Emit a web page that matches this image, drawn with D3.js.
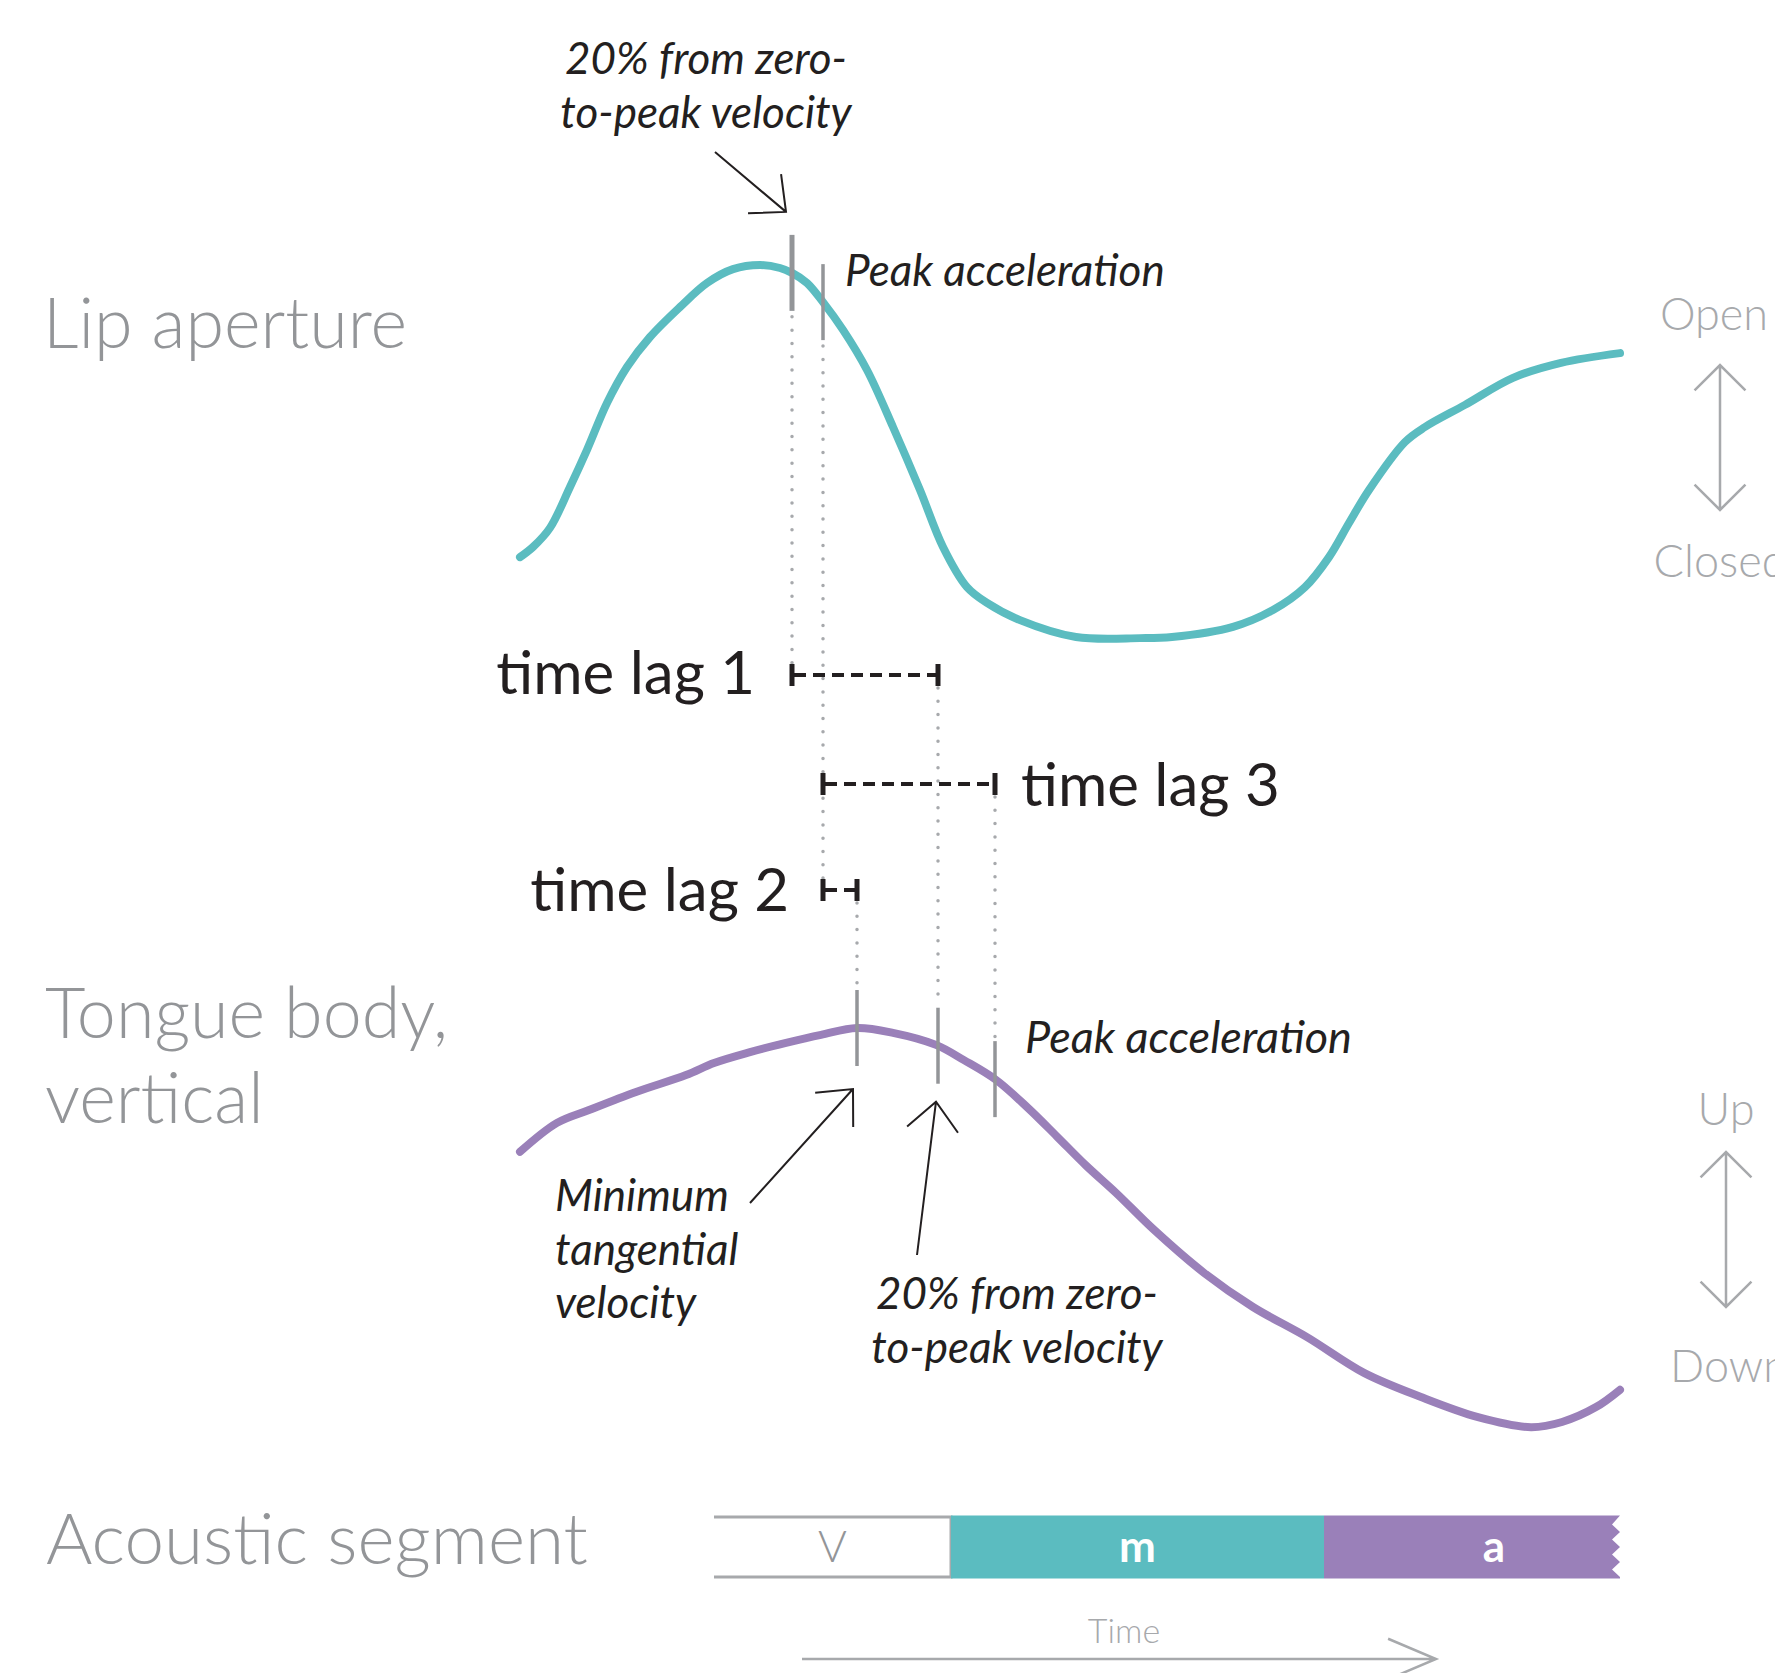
<!DOCTYPE html>
<html>
<head>
<meta charset="utf-8">
<script src="https://cdn.jsdelivr.net/npm/d3@7"></script>
<style>
  html, body { margin: 0; padding: 0; background: #fff; }
  svg { display: block; }
  text { font-family: Lato, "Open Sans", "Noto Sans", sans-serif; }
</style>
</head>
<body>
<svg id="chart" width="1775" height="1673"></svg>
<script>
// ---- Data -------------------------------------------------------------
// Lip aperture trajectory (time in ms, aperture as % of its range)
const lipTime     = [0, 6.5, 15, 25, 33.5, 43.5, 53.5, 65, 80, 93.5, 106.5, 120, 130, 136, 143.5, 151.5, 161.5, 173.5, 186.5, 200, 211.5, 223.5, 233.5, 250, 278, 310, 326, 356.5, 376.5, 392.5, 404.5, 414.5, 424.5, 442.5, 452.5, 472.5, 496.5, 520.5, 550];
const lipAperture = [22.1, 24.8, 29.9, 40.8, 50.7, 63.2, 72.8, 80.8, 88.8, 95.2, 98.9, 100, 99.2, 97.9, 95.2, 90.1, 82.7, 72, 56.8, 40, 24.8, 14.1, 9.9, 5.3, 0.8, 0.5, 0.8, 3.5, 8, 14.1, 22.1, 31.2, 40, 52.8, 56.8, 62.7, 69.9, 73.9, 76.5];

// Tongue body vertical position (time in ms, height as % of its range)
const tongueTime   = [0, 18.5, 34.5, 58, 83, 97, 115, 133, 150.5, 168.5, 186.5, 208, 222, 238, 254, 268.5, 283, 298, 317, 342, 366.5, 393.5, 422, 450.5, 479, 505.5, 521, 538, 550];
const tongueHeight = [69.2, 76.4, 79.6, 84.1, 88.3, 91.3, 94.0, 96.3, 98.3, 100, 98.8, 95.8, 92.0, 87.1, 80.1, 73.0, 65.8, 59.0, 49.8, 39.1, 30.6, 23.1, 14.2, 8.2, 3.2, 0.7, 2.0, 5.7, 10];

// Kinematic landmarks (ms)
const lipLandmarkTimes    = [136, 151.5];          // 20% velocity onset, peak acceleration
const tongueLandmarkTimes = [168.5, 209, 237.5];   // min. tangential velocity, 20% onset, peak acceleration

// Inter-gestural lags, listed top to bottom
const lagLabels = ["time lag 1", "time lag 3", "time lag 2"];
const lagFrom   = [136, 151.5, 151.5];
const lagTo     = [209, 237.5, 168.5];

// Acoustic segmentation (ms)
const segmentLabels = ["V", "m", "a"];
const segmentStart  = [97, 215.5, 402];
const segmentEnd    = [215.5, 402, 572];

const timeDomain = [0, 550];

// ---- Palette ----------------------------------------------------------
const TEAL = "#5bbcc0", PURPLE = "#9a80b9", INK = "#231f20";
const GREY = "#939598", LIGHT = "#a7a9ac";

// ---- Scales -----------------------------------------------------------
const svg = d3.select("#chart");
const x = d3.scaleLinear().domain(timeDomain).range([520, 1620]);
const yLip = d3.scaleLinear().domain([0, 100]).range([640, 265]);
const yTongue = d3.scaleLinear().domain([0, 100]).range([1430, 1028]);

// ---- Helpers ----------------------------------------------------------
function arrowPath(x1, y1, x2, y2, spread, len) {
  const back = Math.atan2(y1 - y2, x1 - x2);
  const a1 = back + spread, a2 = back - spread;
  return `M${x1},${y1}L${x2},${y2}` +
         `M${x2 + len * Math.cos(a1)},${y2 + len * Math.sin(a1)}L${x2},${y2}` +
         `L${x2 + len * Math.cos(a2)},${y2 + len * Math.sin(a2)}`;
}

function doubleArrow(cx, yTop, yBot, len) {
  const d = len * Math.SQRT1_2;
  return `M${cx},${yTop}L${cx},${yBot}` +
         `M${cx - d},${yTop + d}L${cx},${yTop}L${cx + d},${yTop + d}` +
         `M${cx - d},${yBot - d}L${cx},${yBot}L${cx + d},${yBot - d}`;
}

// y position of a drawn path at a given screen x (path is monotone in x)
function yOnPath(node, px) {
  let lo = 0, hi = node.getTotalLength();
  for (let i = 0; i < 40; i++) {
    const mid = (lo + hi) / 2;
    if (node.getPointAtLength(mid).x < px) lo = mid; else hi = mid;
  }
  return node.getPointAtLength((lo + hi) / 2).y;
}

function addText(sel, str, px, py, opts) {
  return sel.append("text")
    .attr("x", px).attr("y", py)
    .attr("font-size", opts.size)
    .attr("font-style", opts.italic ? "italic" : null)
    .attr("font-weight", opts.weight || 400)
    .attr("text-anchor", opts.anchor || "start")
    .attr("fill", opts.fill || INK)
    .text(str);
}

// ---- Trajectories -----------------------------------------------------
const line = (ts, vs, yS) => d3.line()
  .x((d, i) => x(ts[i])).y((d, i) => yS(vs[i]))
  .curve(d3.curveCatmullRom.alpha(0.5))(ts);

const lipPath = svg.append("path")
  .attr("d", line(lipTime, lipAperture, yLip))
  .attr("fill", "none").attr("stroke", TEAL)
  .attr("stroke-width", 8).attr("stroke-linecap", "round").attr("stroke-linejoin", "round");

const tonguePath = svg.append("path")
  .attr("d", line(tongueTime, tongueHeight, yTongue))
  .attr("fill", "none").attr("stroke", PURPLE)
  .attr("stroke-width", 8).attr("stroke-linecap", "round").attr("stroke-linejoin", "round");

// ---- Landmark ticks ---------------------------------------------------
const TICK_HALF = 38;
const lipTicks = lipLandmarkTimes.map((t, i) => {
  const cy = yOnPath(lipPath.node(), x(t));
  return { t, x: x(t), top: cy - TICK_HALF, bottom: cy + TICK_HALF, w: i === 0 ? 5 : 3.5 };
});
const tongueTicks = tongueLandmarkTimes.map(t => {
  const cy = yOnPath(tonguePath.node(), x(t));
  return { t, x: x(t), top: cy - TICK_HALF, bottom: cy + TICK_HALF, w: 3.5 };
});

// ---- Lag brackets and guide lines --------------------------------------
const lagRowY = [675, 784, 890];
const guides = svg.append("g")
  .attr("stroke", LIGHT).attr("stroke-width", 3.5)
  .attr("stroke-linecap", "round").attr("stroke-dasharray", "0,13.3");

lipTicks.forEach(tk => {
  const rows = lagFrom.map((f, i) => f === tk.t ? lagRowY[i] : null).filter(v => v !== null);
  if (rows.length) guides.append("line")
    .attr("x1", tk.x).attr("x2", tk.x).attr("y1", tk.bottom + 6).attr("y2", d3.max(rows));
});
tongueTicks.forEach(tk => {
  const rows = lagTo.map((f, i) => f === tk.t ? lagRowY[i] : null).filter(v => v !== null);
  if (rows.length) guides.append("line")
    .attr("x1", tk.x).attr("x2", tk.x).attr("y1", d3.min(rows) + 13).attr("y2", tk.top - 2);
});

svg.append("g").selectAll("line")
  .data(lipTicks.concat(tongueTicks)).join("line")
  .attr("x1", d => d.x).attr("x2", d => d.x)
  .attr("y1", d => d.top).attr("y2", d => d.bottom)
  .attr("stroke", GREY).attr("stroke-width", d => d.w);

const lags = svg.append("g");
lagLabels.forEach((lab, i) => {
  const x0 = x(lagFrom[i]), x1 = x(lagTo[i]), yy = lagRowY[i];
  lags.append("line").attr("x1", x0 + 2).attr("x2", x1 - 2).attr("y1", yy).attr("y2", yy)
    .attr("stroke", INK).attr("stroke-width", 4).attr("stroke-dasharray", "12,7");
  [x0, x1].forEach(cx => lags.append("line")
    .attr("x1", cx).attr("x2", cx).attr("y1", yy - 11).attr("y2", yy + 11)
    .attr("stroke", INK).attr("stroke-width", 5));
  const right = i === 1;
  addText(lags, lab, right ? x1 + 26 : x0 - (i === 0 ? 37 : 34), yy + (i === 0 ? 19 : (i === 1 ? 22 : 21)),
          { size: 60, anchor: right ? "start" : "end" });
});

// ---- Annotations ------------------------------------------------------
const ann = svg.append("g");
const annStyle = { size: 44, italic: true };
addText(ann, "20% from zero-", 706, 74, { ...annStyle, anchor: "middle" });
addText(ann, "to-peak velocity", 706, 128, { ...annStyle, anchor: "middle" });
addText(ann, "Peak acceleration", lipTicks[1].x + 22, 286, annStyle);
addText(ann, "Peak acceleration", tongueTicks[2].x + 30, 1053, { ...annStyle, size: 45 });
addText(ann, "Minimum", 555, 1211, annStyle);
addText(ann, "tangential", 555, 1265, annStyle);
addText(ann, "velocity", 555, 1318, annStyle);
addText(ann, "20% from zero-", 1017, 1309, { ...annStyle, anchor: "middle" });
addText(ann, "to-peak velocity", 1017, 1363, { ...annStyle, anchor: "middle" });

const arrows = [
  [715, 152, lipTicks[0].x - 6, lipTicks[0].top - 23],
  [750, 1203, tongueTicks[0].x - 4, tongueTicks[0].bottom + 23],
  [917, 1255, tongueTicks[1].x - 2, tongueTicks[1].bottom + 18]
];
ann.selectAll("path").data(arrows).join("path")
  .attr("d", d => arrowPath(d[0], d[1], d[2], d[3], 0.74, 38))
  .attr("fill", "none").attr("stroke", INK).attr("stroke-width", 2);

// ---- Row titles --------------------------------------------------------
const titles = svg.append("g");
addText(titles, "Lip aperture", 43, 348, { size: 70, weight: 300, fill: GREY });
addText(titles, "Tongue body,", 45, 1038, { size: 70, weight: 300, fill: GREY });
addText(titles, "vertical", 45, 1123, { size: 70, weight: 300, fill: GREY });
addText(titles, "Acoustic segment", 46, 1564, { size: 71, weight: 300, fill: GREY });

// ---- Direction keys on the right --------------------------------------
const keys = svg.append("g");
addText(keys, "Open", 1714, 330, { size: 45, weight: 300, fill: LIGHT, anchor: "middle" });
addText(keys, "Closed", 1720, 577, { size: 45, weight: 300, fill: LIGHT, anchor: "middle" });
addText(keys, "Up", 1726, 1125, { size: 45, weight: 300, fill: LIGHT, anchor: "middle" });
addText(keys, "Down", 1729, 1382, { size: 45, weight: 300, fill: LIGHT, anchor: "middle" });
keys.append("path").attr("d", doubleArrow(1720, 365, 510, 36));
keys.append("path").attr("d", doubleArrow(1726, 1152, 1307, 36));
keys.selectAll("path").attr("fill", "none").attr("stroke", LIGHT).attr("stroke-width", 2.5);

// ---- Acoustic segments -------------------------------------------------
const segTop = 1517, segBot = 1577;
const segs = svg.append("g");
const xMax = x(timeDomain[1]);
segmentLabels.forEach((lab, i) => {
  const x0 = x(segmentStart[i]), x1 = Math.min(x(segmentEnd[i]), xMax);
  if (i === 0) {
    segs.append("path")
      .attr("d", `M${x0},${segTop}H${x1}V${segBot}H${x0}`)
      .attr("fill", "none").attr("stroke", LIGHT).attr("stroke-width", 3);
  } else if (x(segmentEnd[i]) > xMax) {
    // open-ended segment: torn edge at the right margin
    const n = 4, h = (segBot - segTop) / n;
    let d = `M${x0},${segTop - 1.5}H${x1}`;
    for (let k = 0; k < n; k++) d += `L${x1 - 8},${segTop + h * (k + 0.5)}L${x1},${segTop + h * (k + 1)}`;
    d += `L${x1},${segBot + 1.5}H${x0}Z`;
    segs.append("path").attr("d", d).attr("fill", PURPLE);
  } else {
    segs.append("rect").attr("x", x0).attr("y", segTop - 1.5)
      .attr("width", x1 - x0).attr("height", segBot - segTop + 3).attr("fill", TEAL);
  }
  const cx = x((segmentStart[i] + segmentEnd[i]) / 2);
  addText(segs, lab, cx, 1562, i === 0
    ? { size: 44, weight: 300, fill: GREY, anchor: "middle" }
    : { size: 44, weight: 700, fill: "#fff", anchor: "middle" });
});

// ---- Time arrow --------------------------------------------------------
addText(svg, "Time", 1124, 1643, { size: 34, weight: 300, fill: LIGHT, anchor: "middle" });
svg.append("path").attr("d", arrowPath(802, 1659, 1436, 1659, 0.4, 52))
  .attr("fill", "none").attr("stroke", LIGHT).attr("stroke-width", 2.5);
</script>
</body>
</html>
